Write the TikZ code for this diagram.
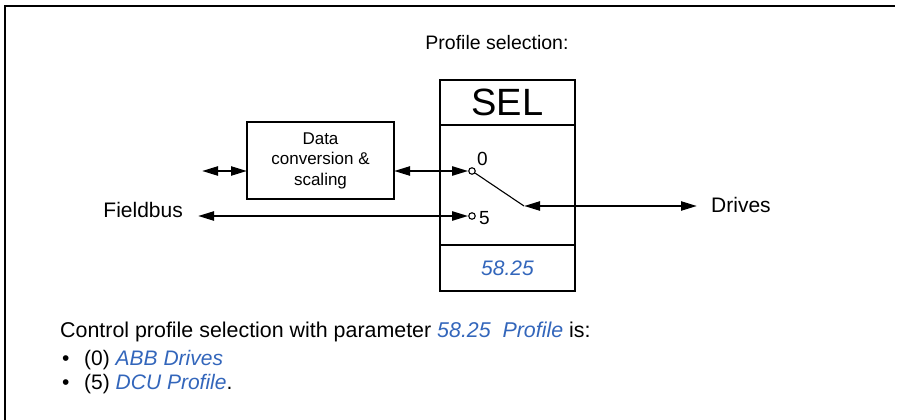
\documentclass[tikz,border=0pt]{standalone}
\usepackage{fontspec}
\setmainfont{Liberation Sans}
\usetikzlibrary{arrows.meta}
\definecolor{parblue}{RGB}{51, 102, 187}

\tikzset{
    blockbox/.style={draw, line width=2.2pt, inner sep=0pt, outer sep=0pt},
    sig/.style={line width=2.2pt,
        {Triangle[length=16pt, width=9pt]}-{Triangle[length=16pt, width=9pt]}},
    terminal/.style={circle, draw, line width=1.1pt, fill=white,
        inner sep=0pt, minimum size=6.5pt},
    lbl/.style={font=\fontsize{21}{25}\selectfont, inner sep=0pt},
    pin/.style={font=\fontsize{19}{19}\selectfont, inner sep=0pt},
}

\begin{document}
\begin{tikzpicture}[x=1pt, y=-1pt]
\useasboundingbox (0,0) rectangle (898,420);

% === Marco ===
\draw[line width=1.8pt] (5,420) -- (5,6) -- (895,6);

% Titulo
\node[lbl, font=\fontsize{19.5}{24}\selectfont, anchor=base] (title)
    at (497,50) {Profile selection:};

% === Bloque SEL ===
\node[blockbox, minimum width=135pt, minimum height=45pt,
      font=\fontsize{38}{38}\selectfont] (sel) at (507.5,102.5) {SEL};
\node[blockbox, minimum width=135pt, minimum height=120pt, anchor=north]
      (selbody) at (sel.south) {};
\node[blockbox, minimum width=135pt, minimum height=46pt, anchor=north,
      font=\fontsize{21}{25}\selectfont\itshape, text=parblue]
      (selpar) at (selbody.south) {58.25};

% === Bloque de conversion ===
\node[blockbox, minimum width=147pt, minimum height=77pt, align=center,
      font=\fontsize{17}{20.5}\selectfont] (conv) at (320.5,160.5)
      {Data\\conversion \&\\scaling};

% Contactos del selector
\node[terminal] (t0) at (472,171) {};
\node[terminal] (t5) at (472,216) {};
\node[pin, anchor=base west] (n0) at (477,165) {0};
\node[pin, anchor=base west] (n5) at (479,224) {5};
\coordinate (pivot) at (524,206);
\draw[line width=1.1pt] (t0) -- (pivot);

% Etiquetas laterales
\node[lbl, inner xsep=15pt, anchor=base east] (fieldbus) at (198,217) {Fieldbus};
\node[lbl, inner xsep=14pt, anchor=base west] (drives) at (697,212) {Drives};
\coordinate (fbin) at (202,171);

% Senales
\draw[sig] (fbin) -- (conv.west |- fbin);
\draw[sig] (conv.east |- t0) -- (t0);
\draw[sig] (t5 -| fieldbus.east) -- (t5);
\draw[sig] (pivot) -- (pivot -| drives.west);

% === Texto inferior ===
\node[lbl, font=\fontsize{21.4}{25}\selectfont, anchor=base west] (note) at (60,337)
    {Control profile selection with parameter
     \textcolor{parblue}{\itshape 58.25\hspace{0.55em}Profile} is:};
\foreach \val/\yy/\name/\tail in {0/365/ABB Drives/, 5/389/DCU Profile/.} {
    \node[lbl, anchor=base west] (bul\val) at (62,\yy) {•};
    \node[lbl, anchor=base west] (opt\val) at (84,\yy)
        {(\val) \textcolor{parblue}{\itshape \name}\tail};
}

\end{tikzpicture}
\end{document}
